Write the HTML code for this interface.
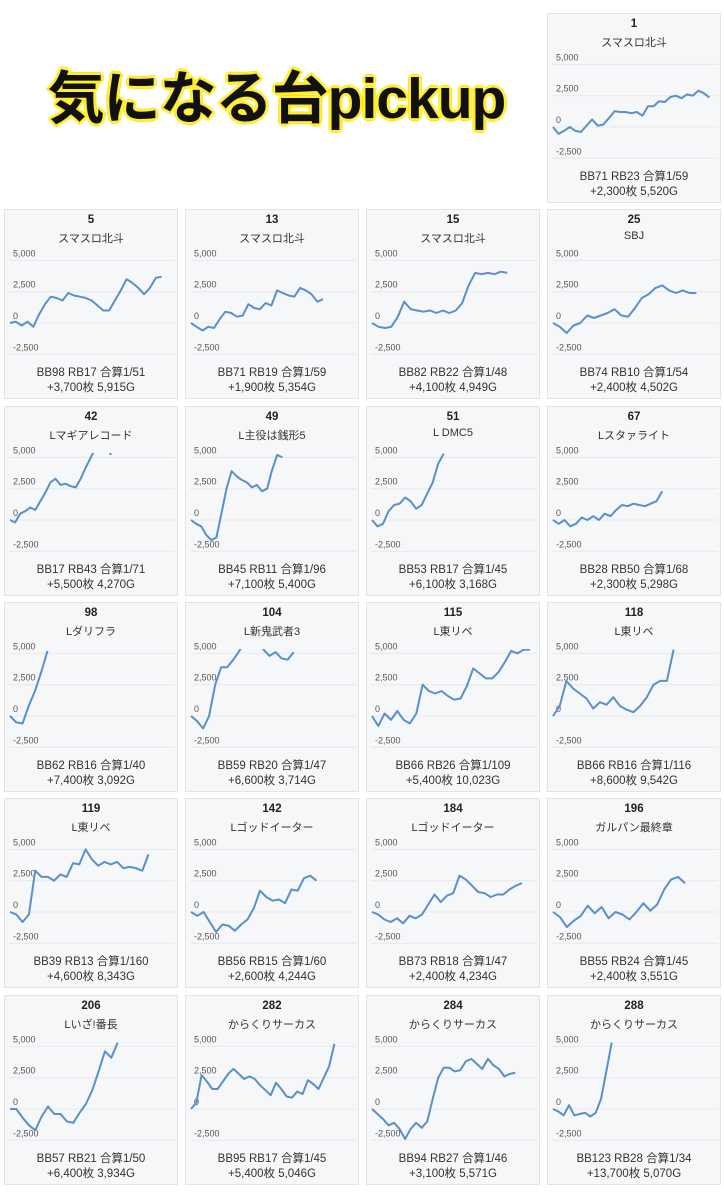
<!DOCTYPE html>
<html><head><meta charset="utf-8">
<style>
body{margin:0;width:724px;height:1200px;background:#fff;position:relative;overflow:hidden;font-family:"Liberation Sans","Noto Sans CJK JP",sans-serif;}
#title{position:absolute;left:4px;top:53px;width:545px;text-align:center;font-size:57px;font-weight:bold;color:#111;letter-spacing:-1px;
text-shadow:0 0 3px #ffe600,2px 2px 0 #fff14a,-2px -2px 0 #fff14a,2px -2px 0 #fff14a,-2px 2px 0 #fff14a,0 3px 0 #ffe600,0 -3px 0 #ffe600,3px 0 0 #ffe600,-3px 0 0 #ffe600;}
.card{position:absolute;width:174px;height:190px;background:#f6f7f9;border:1px solid #e2e4e8;box-sizing:border-box;}
.num{position:absolute;top:4px;width:100%;text-align:center;font-size:11.5px;font-weight:bold;color:#222;}
.nm{position:absolute;top:20px;width:100%;text-align:center;font-size:11px;color:#333;}
.st{position:absolute;width:100%;text-align:center;font-size:11.5px;color:#333;line-height:15px;top:156px;}
svg{position:absolute;left:0;top:0;}
</style></head><body>
<div id="title">気になる台pickup</div>
<script>
const ids=["1","5","13","15","25","42","49","51","67","98","104","115","118","119","142","184","196","206","282","284","288"];
const names=["スマスロ北斗","スマスロ北斗","スマスロ北斗","スマスロ北斗","SBJ","Lマギアレコード","L主役は銭形5","L DMC5","Lスタァライト","Lダリフラ","L新鬼武者3","L東リベ","L東リベ","L東リベ","Lゴッドイーター","Lゴッドイーター","ガルパン最終章","Lいざ!番長","からくりサーカス","からくりサーカス","からくりサーカス"];
const stats1=["BB71 RB23 合算1/59","BB98 RB17 合算1/51","BB71 RB19 合算1/59","BB82 RB22 合算1/48","BB74 RB10 合算1/54","BB17 RB43 合算1/71","BB45 RB11 合算1/96","BB53 RB17 合算1/45","BB28 RB50 合算1/68","BB62 RB16 合算1/40","BB59 RB20 合算1/47","BB66 RB26 合算1/109","BB66 RB16 合算1/116","BB39 RB13 合算1/160","BB56 RB15 合算1/60","BB73 RB18 合算1/47","BB55 RB24 合算1/45","BB57 RB21 合算1/50","BB95 RB17 合算1/45","BB94 RB27 合算1/46","BB123 RB28 合算1/34"];
const stats2=["+2,300枚 5,520G","+3,700枚 5,915G","+1,900枚 5,354G","+4,100枚 4,949G","+2,400枚 4,502G","+5,500枚 4,270G","+7,100枚 5,400G","+6,100枚 3,168G","+2,300枚 5,298G","+7,400枚 3,092G","+6,600枚 3,714G","+5,400枚 10,023G","+8,600枚 9,542G","+4,600枚 8,343G","+2,600枚 4,244G","+2,400枚 4,234G","+2,400枚 3,551G","+6,400枚 3,934G","+5,400枚 5,046G","+3,100枚 5,571G","+13,700枚 5,070G"];
const tickValues=[5000,2500,0,-2500];
const tickLabels=["5,000","2,500","0","-2,500"];
const coverage=[0.96,0.93,0.81,0.83,0.88,0.62,0.56,0.44,0.67,0.23,0.63,0.97,0.74,0.85,0.77,0.92,0.81,0.66,0.88,0.88,0.36];
const series=[
[0,-0.55,-0.3,0,-0.3,-0.4,0.1,0.6,0.1,0.2,0.7,1.25,1.2,1.2,1.1,1.2,0.9,1.65,1.65,2.05,2.0,2.4,2.5,2.3,2.6,2.5,2.9,2.7,2.35],
[0,0.1,-0.2,0.1,-0.3,0.7,1.5,2.1,2.0,1.8,2.4,2.2,2.1,2.0,1.8,1.4,1.0,1.0,1.8,2.6,3.5,3.2,2.8,2.3,2.8,3.6,3.7],
[0,-0.3,-0.6,-0.3,-0.4,0.3,0.9,0.8,0.5,0.6,1.5,1.2,1.1,1.6,1.4,2.6,2.4,2.2,2.1,2.8,2.6,2.3,1.7,1.9],
[0,-0.3,-0.4,-0.3,0.5,1.7,1.1,1.0,0.9,1.0,0.8,1.0,0.8,1.0,1.6,3.0,4.0,3.9,4.0,3.9,4.1,4.0],
[0,-0.3,-0.8,-0.2,0,0.6,0.4,0.6,0.8,1.1,0.6,0.5,1.2,2.0,2.3,2.8,3.0,2.6,2.4,2.6,2.4,2.4],
[0,-0.2,0.5,0.7,1.0,0.8,1.5,2.2,3.0,3.3,2.8,2.9,2.7,2.6,3.3,4.2,5.0,5.8,6.2,5.9,5.2],
[0,-0.3,-0.5,-1.2,-1.6,-1.4,0.5,2.5,3.9,3.5,3.2,3.0,2.6,2.8,2.3,2.5,4.0,5.2,5.0],
[0,-0.5,-0.3,0.7,1.2,1.3,1.8,1.5,0.9,1.2,2.1,3.0,4.5,5.3],
[0,-0.3,0,-0.5,-0.3,0.2,0,0.3,0,0.5,0.3,0.8,1.2,1.1,1.3,1.2,1.1,1.3,1.5,2.3],
[0,-0.5,-0.6,0.8,2.0,3.5,5.2],
[0,-0.4,-1.0,0,2.5,3.9,3.9,4.5,5.2,6.0,7.0,6.5,5.3,4.8,5.1,4.6,4.5,5.1],
[0,-0.8,0.2,-0.3,0.4,-0.3,-0.6,0.2,2.5,2.0,1.8,2.0,1.6,1.3,1.4,2.4,3.8,3.4,3.0,3.0,3.5,4.3,5.2,5.0,5.3,5.3],
[0,0.8,2.8,2.2,1.8,1.4,0.6,1.1,0.9,1.5,0.8,0.5,0.3,0.8,1.5,2.5,2.8,2.8,5.3],
[0,-0.2,-0.8,-0.2,3.3,2.8,2.8,2.5,3.0,2.8,3.9,3.8,5.0,4.2,3.7,4.0,3.8,4.0,3.5,3.6,3.5,3.3,4.6],
[0,-0.3,0,-0.8,-1.6,-1.0,-1.1,-1.5,-1.0,-0.6,0.3,1.7,1.2,0.9,1.0,0.7,1.8,1.7,2.7,2.9,2.5],
[0,-0.2,-0.6,-0.8,-0.5,-0.9,-0.3,-0.5,-0.2,0.6,1.4,0.8,1.3,1.5,2.9,2.6,2.1,1.6,1.5,1.2,1.4,1.4,1.8,2.1,2.3],
[0,-0.4,-1.2,-0.7,-0.3,0.5,-0.1,0.4,-0.5,0,-0.2,-0.6,0,0.7,0.1,0.6,1.8,2.6,2.8,2.3],
[0,0,-0.7,-1.3,-1.7,-0.6,0.2,-0.4,-0.4,-1.0,-1.1,-0.3,0.4,1.5,3.0,4.6,4.1,5.3],
[0,0.5,2.7,2.2,1.6,1.6,2.2,2.8,3.2,2.8,2.4,2.6,2.4,1.9,1.5,1.1,2.1,1.6,1.0,0.9,1.4,1.2,2.3,2.0,1.6,2.5,3.4,5.2],
[0,-0.4,-0.8,-1.3,-1.1,-1.6,-2.4,-1.6,-1.1,-1.5,-1.0,0.8,2.5,3.3,3.3,3.0,3.1,3.8,4.0,3.6,3.2,4.0,3.5,3.2,2.6,2.8,2.9],
[0,-0.2,-0.5,0.3,-0.5,-0.4,-0.3,-0.6,-0.3,0.8,3.0,5.3]
];
const NS="http://www.w3.org/2000/svg";
const yScale=v=>113-v*1000/2500*31.3;
const xScale=(i,n,cov)=>5+(n>1?i/(n-1):0)*163*cov;
for(let c=0;c<ids.length;c++){
  const pos=c===0?[3,0]:[(c-1)%4,1+Math.floor((c-1)/4)];
  const card=document.createElement('div');
  card.className='card';
  card.style.left=(4+pos[0]*181)+'px';
  card.style.top=(13+pos[1]*196.3)+'px';
  
  
  const n=document.createElement('div');n.className='num';n.textContent=ids[c];
  
  
  const nm=document.createElement('div');nm.className='nm';nm.textContent=names[c];
  
  
  const svg=document.createElementNS(NS,'svg');
  svg.setAttribute('width','174');svg.setAttribute('height','150');
  
  
  const cp=document.createElementNS(NS,'clipPath');cp.setAttribute('id','clip'+c);
  const cr=document.createElementNS(NS,'rect');cr.setAttribute('x','0');cr.setAttribute('y',yScale(5.35));cr.setAttribute('width','174');cr.setAttribute('height','120');
  cp.appendChild(cr);svg.appendChild(cp);
  tickValues.forEach((t,k)=>{
    const y=yScale(t/1000);
    const g=document.createElementNS(NS,'line');
    g.setAttribute('x1','4');g.setAttribute('x2','170');g.setAttribute('y1',y);g.setAttribute('y2',y);
    g.setAttribute('stroke','#e6e8eb');g.setAttribute('stroke-width','1');
    
    
    svg.appendChild(g);
    const tx=document.createElementNS(NS,'text');
    tx.setAttribute('x','8');tx.setAttribute('y',y-4);tx.setAttribute('font-size','9');tx.setAttribute('fill','#555');
    tx.setAttribute('font-family','Liberation Sans, sans-serif');
    tx.textContent=tickLabels[k];
    
    
    svg.appendChild(tx);
  });
  const s=series[c];
  const pts=s.map((v,i)=>xScale(i,s.length,coverage[c]).toFixed(1)+','+yScale(v).toFixed(1)).join(' ');
  const pl=document.createElementNS(NS,'polyline');
  pl.setAttribute('points',pts);pl.setAttribute('fill','none');pl.setAttribute('stroke','#5b8fc6');
  pl.setAttribute('stroke-width','2');pl.setAttribute('stroke-linejoin','round');pl.setAttribute('clip-path','url(#clip'+c+')');
  
  
  svg.appendChild(pl);
  const st=document.createElement('div');st.className='st';
  st.innerHTML=stats1[c]+'<br>'+stats2[c];
  
  
  card.appendChild(svg);card.appendChild(n);card.appendChild(nm);card.appendChild(st);
  document.body.appendChild(card);
}
</script>
</body></html>
